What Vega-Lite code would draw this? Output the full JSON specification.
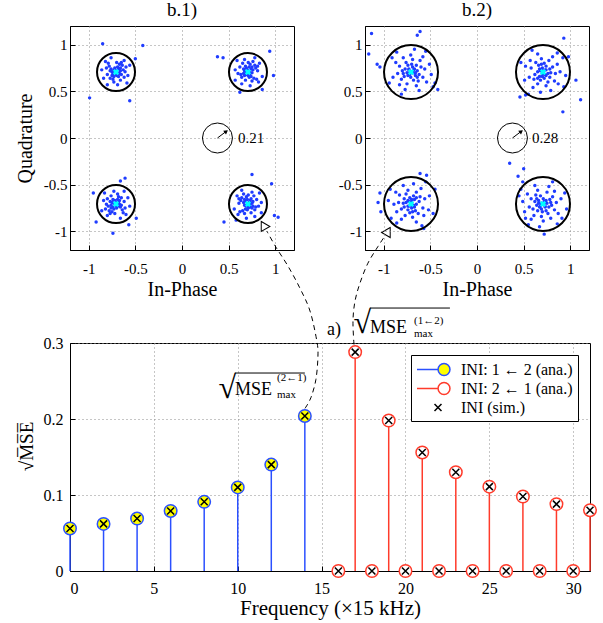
{
"$schema":"https://vega.github.io/schema/vega-lite/v6.json",
"background":"white",
"padding":{"left":14,"top":0,"right":5,"bottom":5},
"datasets":{
"b1":[
{"x":-0.71,"y":0.72},{"x":-0.69,"y":0.70},{"x":-0.73,"y":0.73},{"x":-0.68,"y":0.74},{"x":-0.74,"y":0.69},{"x":-0.70,"y":0.67},{"x":-0.72,"y":0.75},{"x":-0.67,"y":0.69},{"x":-0.75,"y":0.71},{"x":-0.66,"y":0.72},{"x":-0.76,"y":0.74},{"x":-0.69,"y":0.76},{"x":-0.73,"y":0.66},{"x":-0.68,"y":0.66},{"x":-0.75,"y":0.67},{"x":-0.66,"y":0.75},{"x":-0.71,"y":0.69},{"x":-0.72,"y":0.71},{"x":-0.65,"y":0.68},{"x":-0.77,"y":0.72},{"x":-0.63,"y":0.73},{"x":-0.78,"y":0.77},{"x":-0.67,"y":0.79},{"x":-0.74,"y":0.63},{"x":-0.62,"y":0.65},{"x":-0.80,"y":0.68},{"x":-0.64,"y":0.78},{"x":-0.77,"y":0.64},{"x":-0.70,"y":0.81},{"x":-0.61,"y":0.71},{"x":-0.81,"y":0.75},{"x":-0.66,"y":0.62},{"x":-0.79,"y":0.80},{"x":-0.60,"y":0.76},{"x":-0.73,"y":0.60},{"x":-0.65,"y":0.81},{"x":-0.58,"y":0.67},{"x":-0.84,"y":0.64},{"x":-0.62,"y":0.83},{"x":-0.82,"y":0.82},{"x":-0.69,"y":0.57},{"x":-0.56,"y":0.78},{"x":-0.86,"y":0.73},{"x":-0.76,"y":0.86},{"x":-0.59,"y":0.59},{"x":-0.80,"y":0.57},{"x":-0.85,"y":1.01},{"x":-0.42,"y":0.99},{"x":-0.99,"y":0.43},{"x":-0.56,"y":0.40},{"x":-0.50,"y":0.85},
{"x":0.72,"y":0.71},{"x":0.70,"y":0.73},{"x":0.73,"y":0.69},{"x":0.74,"y":0.74},{"x":0.69,"y":0.68},{"x":0.67,"y":0.72},{"x":0.75,"y":0.70},{"x":0.69,"y":0.75},{"x":0.71,"y":0.67},{"x":0.72,"y":0.76},{"x":0.74,"y":0.66},{"x":0.76,"y":0.73},{"x":0.66,"y":0.69},{"x":0.66,"y":0.74},{"x":0.67,"y":0.67},{"x":0.75,"y":0.76},{"x":0.69,"y":0.71},{"x":0.71,"y":0.70},{"x":0.68,"y":0.77},{"x":0.72,"y":0.65},{"x":0.73,"y":0.79},{"x":0.77,"y":0.64},{"x":0.79,"y":0.75},{"x":0.63,"y":0.68},{"x":0.65,"y":0.80},{"x":0.68,"y":0.62},{"x":0.78,"y":0.78},{"x":0.64,"y":0.65},{"x":0.81,"y":0.72},{"x":0.71,"y":0.81},{"x":0.75,"y":0.61},{"x":0.62,"y":0.76},{"x":0.80,"y":0.63},{"x":0.76,"y":0.82},{"x":0.60,"y":0.69},{"x":0.81,"y":0.77},{"x":0.67,"y":0.84},{"x":0.64,"y":0.58},{"x":0.83,"y":0.80},{"x":0.82,"y":0.60},{"x":0.57,"y":0.73},{"x":0.78,"y":0.86},{"x":0.73,"y":0.56},{"x":0.86,"y":0.66},{"x":0.59,"y":0.83},{"x":0.57,"y":0.62},{"x":0.38,"y":0.87},{"x":0.44,"y":0.86},{"x":0.94,"y":0.93},{"x":0.98,"y":0.67},{"x":0.62,"y":0.49},{"x":0.86,"y":0.52},
{"x":-0.71,"y":-0.72},{"x":-0.73,"y":-0.70},{"x":-0.69,"y":-0.73},{"x":-0.74,"y":-0.74},{"x":-0.68,"y":-0.69},{"x":-0.72,"y":-0.67},{"x":-0.70,"y":-0.75},{"x":-0.75,"y":-0.69},{"x":-0.67,"y":-0.71},{"x":-0.76,"y":-0.72},{"x":-0.66,"y":-0.74},{"x":-0.73,"y":-0.76},{"x":-0.69,"y":-0.66},{"x":-0.74,"y":-0.66},{"x":-0.67,"y":-0.67},{"x":-0.76,"y":-0.75},{"x":-0.71,"y":-0.69},{"x":-0.70,"y":-0.71},{"x":-0.77,"y":-0.68},{"x":-0.65,"y":-0.72},{"x":-0.79,"y":-0.73},{"x":-0.64,"y":-0.77},{"x":-0.75,"y":-0.79},{"x":-0.68,"y":-0.63},{"x":-0.80,"y":-0.65},{"x":-0.62,"y":-0.68},{"x":-0.78,"y":-0.78},{"x":-0.65,"y":-0.64},{"x":-0.72,"y":-0.81},{"x":-0.81,"y":-0.71},{"x":-0.61,"y":-0.75},{"x":-0.76,"y":-0.62},{"x":-0.63,"y":-0.80},{"x":-0.82,"y":-0.76},{"x":-0.69,"y":-0.60},{"x":-0.77,"y":-0.81},{"x":-0.84,"y":-0.67},{"x":-0.58,"y":-0.64},{"x":-0.80,"y":-0.83},{"x":-0.60,"y":-0.82},{"x":-0.73,"y":-0.57},{"x":-0.86,"y":-0.78},{"x":-0.56,"y":-0.73},{"x":-0.66,"y":-0.86},{"x":-0.83,"y":-0.59},{"x":-0.62,"y":-0.57},{"x":-0.92,"y":-0.90},{"x":-0.74,"y":-1.02},{"x":-0.95,"y":-0.59},{"x":-0.61,"y":-0.43},{"x":-0.49,"y":-0.86},{"x":-0.57,"y":-0.93},{"x":-0.66,"y":-0.46},
{"x":0.70,"y":-0.71},{"x":0.72,"y":-0.69},{"x":0.69,"y":-0.73},{"x":0.68,"y":-0.68},{"x":0.73,"y":-0.74},{"x":0.75,"y":-0.70},{"x":0.67,"y":-0.72},{"x":0.73,"y":-0.67},{"x":0.71,"y":-0.75},{"x":0.70,"y":-0.66},{"x":0.68,"y":-0.76},{"x":0.66,"y":-0.69},{"x":0.76,"y":-0.73},{"x":0.76,"y":-0.68},{"x":0.75,"y":-0.75},{"x":0.67,"y":-0.66},{"x":0.73,"y":-0.71},{"x":0.71,"y":-0.72},{"x":0.74,"y":-0.65},{"x":0.70,"y":-0.77},{"x":0.69,"y":-0.63},{"x":0.65,"y":-0.78},{"x":0.63,"y":-0.67},{"x":0.79,"y":-0.74},{"x":0.77,"y":-0.62},{"x":0.74,"y":-0.80},{"x":0.64,"y":-0.64},{"x":0.78,"y":-0.77},{"x":0.61,"y":-0.70},{"x":0.71,"y":-0.61},{"x":0.67,"y":-0.81},{"x":0.80,"y":-0.66},{"x":0.62,"y":-0.79},{"x":0.66,"y":-0.60},{"x":0.82,"y":-0.73},{"x":0.61,"y":-0.65},{"x":0.75,"y":-0.58},{"x":0.78,"y":-0.84},{"x":0.59,"y":-0.62},{"x":0.60,"y":-0.82},{"x":0.85,"y":-0.69},{"x":0.64,"y":-0.56},{"x":0.69,"y":-0.86},{"x":0.56,"y":-0.76},{"x":0.83,"y":-0.59},{"x":0.85,"y":-0.80},{"x":0.75,"y":-0.39},{"x":0.45,"y":-0.90},{"x":0.96,"y":-0.49},{"x":0.99,"y":-0.83},{"x":1.03,"y":-0.85},{"x":0.58,"y":-0.88}
],
"b2":[
{"x":-0.70,"y":0.71},{"x":-0.73,"y":0.73},{"x":-0.68,"y":0.70},{"x":-0.72,"y":0.68},{"x":-0.67,"y":0.74},{"x":-0.75,"y":0.70},{"x":-0.69,"y":0.76},{"x":-0.66,"y":0.67},{"x":-0.77,"y":0.74},{"x":-0.71,"y":0.65},{"x":-0.64,"y":0.72},{"x":-0.74,"y":0.78},{"x":-0.78,"y":0.66},{"x":-0.65,"y":0.78},{"x":-0.62,"y":0.68},{"x":-0.80,"y":0.72},{"x":-0.68,"y":0.62},{"x":-0.76,"y":0.81},{"x":-0.60,"y":0.76},{"x":-0.81,"y":0.63},{"x":-0.63,"y":0.61},{"x":-0.83,"y":0.77},{"x":-0.69,"y":0.84},{"x":-0.58,"y":0.65},{"x":-0.75,"y":0.58},{"x":-0.61,"y":0.83},{"x":-0.85,"y":0.69},{"x":-0.56,"y":0.74},{"x":-0.79,"y":0.86},{"x":-0.65,"y":0.56},{"x":-0.87,"y":0.81},{"x":-0.54,"y":0.60},{"x":-0.83,"y":0.57},{"x":-0.58,"y":0.87},{"x":-0.71,"y":0.89},{"x":-0.90,"y":0.65},{"x":-0.51,"y":0.79},{"x":-0.77,"y":0.52},{"x":-0.62,"y":0.51},{"x":-0.91,"y":0.86},{"x":-0.49,"y":0.68},{"x":-0.86,"y":0.92},{"x":-0.55,"y":0.93},{"x":-0.94,"y":0.59},{"x":-0.67,"y":0.95},{"x":-0.47,"y":0.55},{"x":-0.81,"y":0.47},{"x":-0.73,"y":0.74},{"x":-0.68,"y":0.73},{"x":-0.72,"y":0.70},{"x":-0.66,"y":0.70},{"x":-0.74,"y":0.67},{"x":-0.70,"y":0.79},{"x":-0.79,"y":0.69},{"x":-0.64,"y":0.65},{"x":-1.13,"y":1.12},{"x":-1.16,"y":0.90},{"x":-1.07,"y":0.79},{"x":-1.04,"y":0.76},{"x":-0.64,"y":1.10},{"x":-0.61,"y":1.14},{"x":-0.42,"y":0.52},{"x":-0.45,"y":0.59},
{"x":0.71,"y":0.70},{"x":0.73,"y":0.73},{"x":0.70,"y":0.68},{"x":0.68,"y":0.72},{"x":0.74,"y":0.67},{"x":0.70,"y":0.75},{"x":0.76,"y":0.69},{"x":0.67,"y":0.66},{"x":0.74,"y":0.77},{"x":0.65,"y":0.71},{"x":0.72,"y":0.64},{"x":0.78,"y":0.74},{"x":0.66,"y":0.78},{"x":0.78,"y":0.65},{"x":0.68,"y":0.62},{"x":0.72,"y":0.80},{"x":0.62,"y":0.68},{"x":0.81,"y":0.76},{"x":0.76,"y":0.60},{"x":0.63,"y":0.81},{"x":0.61,"y":0.63},{"x":0.77,"y":0.83},{"x":0.84,"y":0.69},{"x":0.65,"y":0.58},{"x":0.58,"y":0.75},{"x":0.83,"y":0.61},{"x":0.69,"y":0.85},{"x":0.74,"y":0.56},{"x":0.86,"y":0.79},{"x":0.56,"y":0.65},{"x":0.81,"y":0.87},{"x":0.60,"y":0.54},{"x":0.57,"y":0.83},{"x":0.87,"y":0.58},{"x":0.89,"y":0.71},{"x":0.65,"y":0.90},{"x":0.79,"y":0.51},{"x":0.52,"y":0.77},{"x":0.51,"y":0.62},{"x":0.86,"y":0.91},{"x":0.68,"y":0.49},{"x":0.92,"y":0.86},{"x":0.93,"y":0.55},{"x":0.59,"y":0.94},{"x":0.95,"y":0.67},{"x":0.55,"y":0.47},{"x":0.47,"y":0.81},{"x":0.74,"y":0.73},{"x":0.73,"y":0.68},{"x":0.70,"y":0.72},{"x":0.70,"y":0.66},{"x":0.67,"y":0.74},{"x":0.79,"y":0.70},{"x":0.69,"y":0.79},{"x":0.65,"y":0.64},{"x":0.93,"y":1.07},{"x":0.98,"y":0.87},{"x":1.06,"y":0.62},{"x":1.11,"y":0.41},{"x":0.92,"y":0.28},{"x":0.46,"y":0.44},{"x":0.52,"y":0.46},
{"x":-0.71,"y":-0.70},{"x":-0.73,"y":-0.73},{"x":-0.70,"y":-0.68},{"x":-0.68,"y":-0.72},{"x":-0.74,"y":-0.67},{"x":-0.70,"y":-0.75},{"x":-0.76,"y":-0.69},{"x":-0.67,"y":-0.66},{"x":-0.74,"y":-0.77},{"x":-0.65,"y":-0.71},{"x":-0.72,"y":-0.64},{"x":-0.78,"y":-0.74},{"x":-0.66,"y":-0.78},{"x":-0.78,"y":-0.65},{"x":-0.68,"y":-0.62},{"x":-0.72,"y":-0.80},{"x":-0.62,"y":-0.68},{"x":-0.81,"y":-0.76},{"x":-0.76,"y":-0.60},{"x":-0.63,"y":-0.81},{"x":-0.61,"y":-0.63},{"x":-0.77,"y":-0.83},{"x":-0.84,"y":-0.69},{"x":-0.65,"y":-0.58},{"x":-0.58,"y":-0.75},{"x":-0.83,"y":-0.61},{"x":-0.69,"y":-0.85},{"x":-0.74,"y":-0.56},{"x":-0.86,"y":-0.79},{"x":-0.56,"y":-0.65},{"x":-0.81,"y":-0.87},{"x":-0.60,"y":-0.54},{"x":-0.57,"y":-0.83},{"x":-0.87,"y":-0.58},{"x":-0.89,"y":-0.71},{"x":-0.65,"y":-0.90},{"x":-0.79,"y":-0.51},{"x":-0.52,"y":-0.77},{"x":-0.51,"y":-0.62},{"x":-0.86,"y":-0.91},{"x":-0.68,"y":-0.49},{"x":-0.92,"y":-0.86},{"x":-0.93,"y":-0.55},{"x":-0.59,"y":-0.94},{"x":-0.95,"y":-0.67},{"x":-0.55,"y":-0.47},{"x":-0.47,"y":-0.81},{"x":-0.74,"y":-0.73},{"x":-0.73,"y":-0.68},{"x":-0.70,"y":-0.72},{"x":-0.70,"y":-0.66},{"x":-0.67,"y":-0.74},{"x":-0.79,"y":-0.70},{"x":-0.69,"y":-0.79},{"x":-0.65,"y":-0.64},{"x":-1.04,"y":-0.59},{"x":-1.06,"y":-0.69},{"x":-1.03,"y":-0.79},{"x":-0.61,"y":-0.38},{"x":-0.57,"y":-0.97},{"x":-0.45,"y":-0.55},{"x":-0.54,"y":-0.40},
{"x":0.70,"y":-0.71},{"x":0.73,"y":-0.73},{"x":0.68,"y":-0.70},{"x":0.72,"y":-0.68},{"x":0.67,"y":-0.74},{"x":0.75,"y":-0.70},{"x":0.69,"y":-0.76},{"x":0.66,"y":-0.67},{"x":0.77,"y":-0.74},{"x":0.71,"y":-0.65},{"x":0.64,"y":-0.72},{"x":0.74,"y":-0.78},{"x":0.78,"y":-0.66},{"x":0.65,"y":-0.78},{"x":0.62,"y":-0.68},{"x":0.80,"y":-0.72},{"x":0.68,"y":-0.62},{"x":0.76,"y":-0.81},{"x":0.60,"y":-0.76},{"x":0.81,"y":-0.63},{"x":0.63,"y":-0.61},{"x":0.83,"y":-0.77},{"x":0.69,"y":-0.84},{"x":0.58,"y":-0.65},{"x":0.75,"y":-0.58},{"x":0.61,"y":-0.83},{"x":0.85,"y":-0.69},{"x":0.56,"y":-0.74},{"x":0.79,"y":-0.86},{"x":0.65,"y":-0.56},{"x":0.87,"y":-0.81},{"x":0.54,"y":-0.60},{"x":0.83,"y":-0.57},{"x":0.58,"y":-0.87},{"x":0.71,"y":-0.89},{"x":0.90,"y":-0.65},{"x":0.51,"y":-0.79},{"x":0.77,"y":-0.52},{"x":0.62,"y":-0.51},{"x":0.91,"y":-0.86},{"x":0.49,"y":-0.68},{"x":0.86,"y":-0.92},{"x":0.55,"y":-0.93},{"x":0.94,"y":-0.59},{"x":0.67,"y":-0.95},{"x":0.47,"y":-0.55},{"x":0.81,"y":-0.47},{"x":0.73,"y":-0.74},{"x":0.68,"y":-0.73},{"x":0.72,"y":-0.70},{"x":0.66,"y":-0.70},{"x":0.74,"y":-0.67},{"x":0.70,"y":-0.79},{"x":0.79,"y":-0.69},{"x":0.64,"y":-0.65},{"x":0.35,"y":-0.27},{"x":0.50,"y":-0.33},{"x":0.44,"y":-0.41},{"x":0.49,"y":-0.47},{"x":0.96,"y":-0.76},{"x":0.72,"y":-1.03},{"x":0.52,"y":-0.86},{"x":0.45,"y":-0.62}
],
"centers":[{"x":-0.707,"y":0.707},{"x":0.707,"y":0.707},{"x":-0.707,"y":-0.707},{"x":0.707,"y":-0.707}],
"r1":[{"x":0.38,"y":0,"hx":0.474,"hy":0.071,"lx":0.6,"t":"0.21"}],
"r2":[{"x":0.38,"y":0,"hx":0.474,"hy":0.071,"lx":0.59,"t":"0.28"}],
"mse":[
{"f":0,"v":0.056,"s":"INI: 1 ← 2 (ana.)"},{"f":2,"v":0.062,"s":"INI: 1 ← 2 (ana.)"},{"f":4,"v":0.069,"s":"INI: 1 ← 2 (ana.)"},{"f":6,"v":0.079,"s":"INI: 1 ← 2 (ana.)"},{"f":8,"v":0.091,"s":"INI: 1 ← 2 (ana.)"},{"f":10,"v":0.110,"s":"INI: 1 ← 2 (ana.)"},{"f":12,"v":0.140,"s":"INI: 1 ← 2 (ana.)"},{"f":14,"v":0.204,"s":"INI: 1 ← 2 (ana.)"},
{"f":16,"v":0,"s":"INI: 2 ← 1 (ana.)"},{"f":17,"v":0.288,"s":"INI: 2 ← 1 (ana.)"},{"f":18,"v":0,"s":"INI: 2 ← 1 (ana.)"},{"f":19,"v":0.198,"s":"INI: 2 ← 1 (ana.)"},{"f":20,"v":0,"s":"INI: 2 ← 1 (ana.)"},{"f":21,"v":0.156,"s":"INI: 2 ← 1 (ana.)"},{"f":22,"v":0,"s":"INI: 2 ← 1 (ana.)"},{"f":23,"v":0.130,"s":"INI: 2 ← 1 (ana.)"},{"f":24,"v":0,"s":"INI: 2 ← 1 (ana.)"},{"f":25,"v":0.111,"s":"INI: 2 ← 1 (ana.)"},{"f":26,"v":0,"s":"INI: 2 ← 1 (ana.)"},{"f":27,"v":0.098,"s":"INI: 2 ← 1 (ana.)"},{"f":28,"v":0,"s":"INI: 2 ← 1 (ana.)"},{"f":29,"v":0.088,"s":"INI: 2 ← 1 (ana.)"},{"f":30,"v":0,"s":"INI: 2 ← 1 (ana.)"},{"f":31,"v":0.080,"s":"INI: 2 ← 1 (ana.)"}
],
"arr":[
{"id":1,"o":1,"x":14.01,"y":0.214},{"id":1,"o":2,"x":14.36,"y":0.228},{"id":1,"o":3,"x":14.66,"y":0.252},{"id":1,"o":4,"x":14.78,"y":0.282},{"id":1,"o":5,"x":14.72,"y":0.302},{"id":1,"o":6,"x":14.31,"y":0.342},{"id":1,"o":7,"x":13.71,"y":0.372},{"id":1,"o":8,"x":13.0,"y":0.401},{"id":1,"o":9,"x":12.28,"y":0.426},{"id":1,"o":10,"x":11.74,"y":0.447},
{"id":2,"o":1,"x":16.93,"y":0.298},{"id":2,"o":2,"x":16.87,"y":0.329},{"id":2,"o":3,"x":16.99,"y":0.355},{"id":2,"o":4,"x":17.29,"y":0.379},{"id":2,"o":5,"x":17.76,"y":0.405},{"id":2,"o":6,"x":18.36,"y":0.427},{"id":2,"o":7,"x":18.84,"y":0.443}
],
"heads":[{"id":1,"x":11.53,"y":0.455},{"id":2,"x":18.96,"y":0.447}],
"ann":[
{"x":15.32,"y":0.311,"t":"a)","r":"big"},
{"x":9.83,"y":0.232,"t":"MSE","r":"big"},
{"x":17.88,"y":0.313,"t":"MSE","r":"big"},
{"x":12.34,"y":0.2495,"t":"(2←1)","r":"small"},
{"x":12.34,"y":0.227,"t":"max","r":"small"},
{"x":20.51,"y":0.325,"t":"(1←2)","r":"small"},
{"x":20.51,"y":0.3075,"t":"max","r":"small"},
{"x":9.9,"y":0.228,"t":"√","r":"rad"},
{"x":17.95,"y":0.313,"t":"√","r":"rad"}
],
"bars":[{"x":9.83,"x2":14.0,"y":0.2605},{"x":17.88,"x2":22.65,"y":0.346}]
},
"config":{
"font":"Liberation Serif",
"view":{"stroke":"black","strokeWidth":1},
"axis":{"labelFont":"Liberation Serif","titleFont":"Liberation Serif","labelColor":"black","titleColor":"black","titleFontWeight":"normal","domainColor":"black","tickColor":"black","tickSize":-5,"gridColor":"#8c8c8c","gridDash":[1,3],"gridOpacity":1,"labelFontSize":15,"titleFontSize":20,"labelOverlap":false},
"title":{"font":"Liberation Serif","fontWeight":"normal","fontSize":19,"color":"black","anchor":"middle","offset":6}
},
"bounds":"flush",
"spacing":295,
"hconcat":[
{"vconcat":[
{"title":"b.1)","width":224,"height":224,
"layer":[
{"data":{"name":"b1"},"mark":{"type":"point","filled":true,"size":12,"color":"#1f3cff","opacity":1},
"encoding":{"x":{"field":"x","type":"quantitative","scale":{"domain":[-1.2,1.2],"nice":false},"axis":{"title":"In-Phase","values":[-1,-0.5,0,0.5,1],"labelExpr":"'' + datum.value","labelPadding":16,"titleY":29}},
"y":{"field":"y","type":"quantitative","scale":{"domain":[-1.2,1.2],"nice":false},"axis":{"title":"Quadrature","values":[-1,-0.5,0,0.5,1],"labelExpr":"'' + datum.value","labelPadding":8,"titleX":-39,"titleBaseline":"alphabetic"}}}},
{"data":{"name":"centers"},"mark":{"type":"point","shape":"cross","angle":45,"filled":true,"color":"#00ffff","size":40,"opacity":1},"encoding":{"x":{"field":"x","type":"quantitative"},"y":{"field":"y","type":"quantitative"}}},
{"data":{"name":"centers"},"mark":{"type":"point","shape":"circle","filled":false,"color":"black","strokeWidth":2,"size":1444,"opacity":1},"encoding":{"x":{"field":"x","type":"quantitative"},"y":{"field":"y","type":"quantitative"}}},
{"data":{"name":"r1"},"mark":{"type":"point","shape":"circle","filled":false,"color":"black","strokeWidth":1,"size":900,"opacity":1},"encoding":{"x":{"field":"x","type":"quantitative"},"y":{"field":"y","type":"quantitative"}}},
{"data":{"name":"r1"},"mark":{"type":"rule","color":"black","strokeWidth":1},"encoding":{"x":{"field":"x","type":"quantitative"},"y":{"field":"y","type":"quantitative"},"x2":{"field":"hx"},"y2":{"field":"hy"}}},
{"data":{"name":"r1"},"mark":{"type":"point","shape":"triangle-up","angle":53,"filled":true,"color":"black","size":22,"opacity":1},"encoding":{"x":{"field":"hx","type":"quantitative"},"y":{"field":"hy","type":"quantitative"}}},
{"data":{"name":"r1"},"mark":{"type":"text","align":"left","baseline":"middle","fontSize":15,"font":"Liberation Serif","color":"black"},"encoding":{"x":{"field":"lx","type":"quantitative"},"y":{"field":"y","type":"quantitative"},"text":{"field":"t","type":"nominal"}}}
]},
{"width":520,"height":228,
"layer":[
{"data":{"name":"mse"},"transform":[{"filter":"datum.f < 15"}],"mark":{"type":"rule","strokeWidth":1.5,"color":"#2b50ff"},
"encoding":{"x":{"field":"f","type":"quantitative","scale":{"domain":[0,31],"nice":false,"zero":false},"axis":{"title":"Frequency (×15 kHz)","values":[0,5,10,15,20,25,30],"labelPadding":14,"labelFontSize":16,"titleY":26,"titleFontSize":21}},
"y":{"field":"v","type":"quantitative","scale":{"domain":[0,0.3],"nice":false},"axis":{"title":"√M̅S̅E̅","values":[0,0.05,0.1,0.15,0.2,0.25,0.3],"labelExpr":"'' + datum.value","labelOverlap":false,"labelPadding":12,"labelFontSize":16,"titleX":-38,"titleY":103,"titleBaseline":"alphabetic","titleFontSize":19}},
"y2":{"datum":0}}},
{"data":{"name":"mse"},"transform":[{"filter":"datum.f > 15"}],"mark":{"type":"rule","strokeWidth":1.5,"color":"#ff3b2b"},
"encoding":{"x":{"field":"f","type":"quantitative"},"y":{"field":"v","type":"quantitative"},"y2":{"datum":0}}},
{"data":{"name":"mse"},"transform":[{"filter":"datum.f < 15"}],"mark":{"type":"point","shape":"circle","size":156,"strokeWidth":1.5,"filled":true,"fill":"#ffff00","stroke":"#2b50ff","opacity":1},
"encoding":{"x":{"field":"f","type":"quantitative"},"y":{"field":"v","type":"quantitative"}}},
{"data":{"name":"mse"},"transform":[{"filter":"datum.f > 15"}],"mark":{"type":"point","shape":"circle","size":156,"strokeWidth":1.5,"filled":true,"fill":"#ffffff","stroke":"#ff3b2b","opacity":1},
"encoding":{"x":{"field":"f","type":"quantitative"},"y":{"field":"v","type":"quantitative"}}},
{"data":{"name":"mse"},"mark":{"type":"point","size":156,"opacity":0},
"encoding":{"x":{"field":"f","type":"quantitative"},"y":{"field":"v","type":"quantitative"},
"shape":{"field":"s","type":"nominal","scale":{"domain":["INI: 1 ← 2 (ana.)","INI: 2 ← 1 (ana.)","INI (sim.)"],"range":["M-1,0L1.48,0M2.88,0A0.7,0.7,0,1,1,1.48,0A0.7,0.7,0,1,1,2.88,0Z","M-1,0L1.48,0M2.88,0A0.7,0.7,0,1,1,1.48,0A0.7,0.7,0,1,1,2.88,0Z","M1.06,-0.41L1.88,0.41M1.06,0.41L1.88,-0.41"]},
"legend":{"title":null,"orient":"top-right","offset":12,"padding":5,"strokeColor":"black","fillColor":"white","labelFont":"Liberation Serif","labelFontSize":16,"labelColor":"black","labelOffset":26,"labelLimit":0,"rowPadding":0,"symbolSize":289,"symbolStrokeWidth":1.5,"symbolOpacity":1}},
"stroke":{"field":"s","type":"nominal","scale":{"domain":["INI: 1 ← 2 (ana.)","INI: 2 ← 1 (ana.)","INI (sim.)"],"range":["#2b50ff","#ff3b2b","#000000"]}},
"fill":{"field":"s","type":"nominal","scale":{"domain":["INI: 1 ← 2 (ana.)","INI: 2 ← 1 (ana.)","INI (sim.)"],"range":["#ffff00","#ffffff","transparent"]}}}},
{"data":{"name":"mse"},"mark":{"type":"point","shape":"M-1,-1L1,1M-1,1L1,-1","size":49,"strokeWidth":1.5,"color":"black","filled":false,"opacity":1},
"encoding":{"x":{"field":"f","type":"quantitative"},"y":{"field":"v","type":"quantitative"}}},
{"data":{"name":"arr"},"mark":{"type":"line","color":"black","strokeWidth":1,"strokeDash":[5,4],"interpolate":"cardinal","clip":false},
"encoding":{"x":{"field":"x","type":"quantitative"},"y":{"field":"y","type":"quantitative"},"detail":{"field":"id","type":"nominal"},"order":{"field":"o","type":"quantitative"}}},
{"data":{"name":"heads"},"transform":[{"filter":"datum.id === 1"}],"mark":{"type":"point","shape":"triangle-up","angle":-30,"size":100,"filled":true,"fill":"white","stroke":"black","strokeWidth":1,"opacity":1},
"encoding":{"x":{"field":"x","type":"quantitative"},"y":{"field":"y","type":"quantitative"}}},
{"data":{"name":"heads"},"transform":[{"filter":"datum.id === 2"}],"mark":{"type":"point","shape":"triangle-up","angle":30,"size":100,"filled":true,"fill":"white","stroke":"black","strokeWidth":1,"opacity":1},
"encoding":{"x":{"field":"x","type":"quantitative"},"y":{"field":"y","type":"quantitative"}}},
{"data":{"name":"ann"},"transform":[{"filter":"datum.r === 'big'"}],"mark":{"type":"text","align":"left","baseline":"alphabetic","fontSize":18,"font":"Liberation Serif","color":"black"},
"encoding":{"x":{"field":"x","type":"quantitative"},"y":{"field":"y","type":"quantitative"},"text":{"field":"t","type":"nominal"}}},
{"data":{"name":"ann"},"transform":[{"filter":"datum.r === 'small'"}],"mark":{"type":"text","align":"left","baseline":"alphabetic","fontSize":11,"font":"Liberation Serif","color":"black"},
"encoding":{"x":{"field":"x","type":"quantitative"},"y":{"field":"y","type":"quantitative"},"text":{"field":"t","type":"nominal"}}},
{"data":{"name":"ann"},"transform":[{"filter":"datum.r === 'rad'"}],"mark":{"type":"text","align":"right","baseline":"alphabetic","fontSize":32,"font":"Liberation Serif","color":"black"},
"encoding":{"x":{"field":"x","type":"quantitative"},"y":{"field":"y","type":"quantitative"},"text":{"field":"t","type":"nominal"}}},
{"data":{"name":"bars"},"mark":{"type":"rule","color":"black","strokeWidth":1},
"encoding":{"x":{"field":"x","type":"quantitative"},"x2":{"field":"x2"},"y":{"field":"y","type":"quantitative"}}}
]}
],"spacing":93,"bounds":"flush",
"resolve":{"scale":{"shape":"independent","fill":"independent","stroke":"independent","color":"independent"},"legend":{"shape":"independent","fill":"independent","stroke":"independent","color":"independent"}}},
{"title":"b.2)","width":224,"height":224,
"layer":[
{"data":{"name":"b2"},"mark":{"type":"point","filled":true,"size":12,"color":"#1f3cff","opacity":1},
"encoding":{"x":{"field":"x","type":"quantitative","scale":{"domain":[-1.2,1.2],"nice":false},"axis":{"title":"In-Phase","values":[-1,-0.5,0,0.5,1],"labelExpr":"'' + datum.value","labelPadding":16,"titleY":29}},
"y":{"field":"y","type":"quantitative","scale":{"domain":[-1.2,1.2],"nice":false},"axis":{"title":null,"values":[-1,-0.5,0,0.5,1],"labelExpr":"'' + datum.value","labelPadding":8}}}},
{"data":{"name":"centers"},"mark":{"type":"point","shape":"cross","angle":45,"filled":true,"color":"#00ffff","size":40,"opacity":1},"encoding":{"x":{"field":"x","type":"quantitative"},"y":{"field":"y","type":"quantitative"}}},
{"data":{"name":"centers"},"mark":{"type":"point","shape":"circle","filled":false,"color":"black","strokeWidth":2,"size":2916,"opacity":1},"encoding":{"x":{"field":"x","type":"quantitative"},"y":{"field":"y","type":"quantitative"}}},
{"data":{"name":"r2"},"mark":{"type":"point","shape":"circle","filled":false,"color":"black","strokeWidth":1,"size":900,"opacity":1},"encoding":{"x":{"field":"x","type":"quantitative"},"y":{"field":"y","type":"quantitative"}}},
{"data":{"name":"r2"},"mark":{"type":"rule","color":"black","strokeWidth":1},"encoding":{"x":{"field":"x","type":"quantitative"},"y":{"field":"y","type":"quantitative"},"x2":{"field":"hx"},"y2":{"field":"hy"}}},
{"data":{"name":"r2"},"mark":{"type":"point","shape":"triangle-up","angle":53,"filled":true,"color":"black","size":22,"opacity":1},"encoding":{"x":{"field":"hx","type":"quantitative"},"y":{"field":"hy","type":"quantitative"}}},
{"data":{"name":"r2"},"mark":{"type":"text","align":"left","baseline":"middle","fontSize":15,"font":"Liberation Serif","color":"black"},"encoding":{"x":{"field":"lx","type":"quantitative"},"y":{"field":"y","type":"quantitative"},"text":{"field":"t","type":"nominal"}}}
]}
]
}
